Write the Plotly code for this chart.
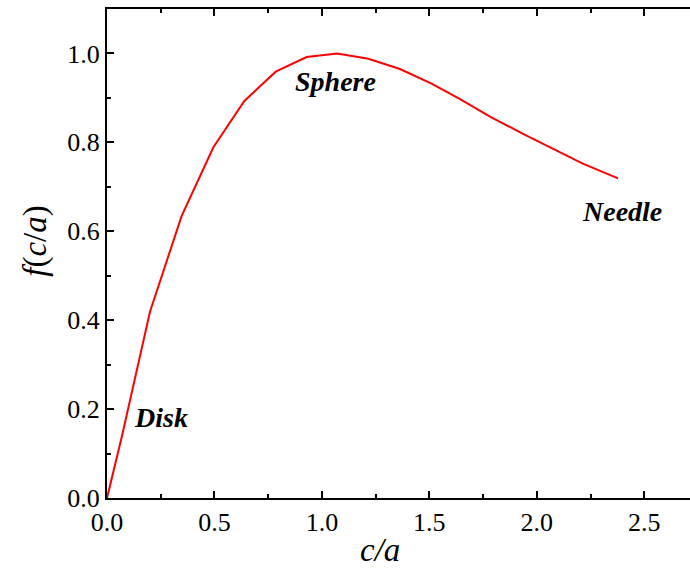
import plotly.graph_objects as go

# Data
ratio_ca = [0.0, 0.07, 0.20, 0.347, 0.495, 0.639, 0.785, 0.929, 1.071, 1.216,
            1.363, 1.51, 1.643, 1.786, 1.929, 2.071, 2.214, 2.378]
f_ca = [0.0, 0.14, 0.419, 0.634, 0.789, 0.893, 0.959, 0.992, 1.0, 0.988,
        0.965, 0.932, 0.897, 0.857, 0.821, 0.786, 0.752, 0.719]

labels = ["Disk", "Sphere", "Needle"]
label_x = [0.251, 1.065, 2.395]
label_y = [0.18, 0.938, 0.645]

SERIF = "Liberation Serif"

fig = go.Figure()
fig.add_trace(go.Scatter(x=ratio_ca, y=f_ca, mode="lines",
                         line=dict(color="#ff0000", width=2), showlegend=False))

for t, x, y in zip(labels, label_x, label_y):
    fig.add_annotation(x=x, y=y, text=f"<b><i>{t}</i></b>", showarrow=False,
                       xanchor="center", yanchor="middle",
                       font=dict(family=SERIF, size=28, color="black"))

# axis titles as annotations for exact placement
fig.add_annotation(xref="paper", yref="paper", x=0.462, y=-0.107, text="<i>c/a</i>",
                   xanchor="center", yanchor="middle",
                   showarrow=False, font=dict(family=SERIF, size=33, color="black"))
fig.add_annotation(xref="paper", yref="paper", x=-0.121, y=0.527,
                   text="<i>f</i>(<i>c</i>/<i>a</i>)", textangle=-90,
                   xanchor="center", yanchor="middle",
                   showarrow=False, font=dict(family=SERIF, size=33, color="black"))

axis_common = dict(showgrid=False, zeroline=False, showline=True, linecolor="black",
                   linewidth=2, mirror="ticks", ticks="inside", ticklen=7, tickwidth=1.5,
                   tickcolor="black", automargin=False,
                   tickfont=dict(family=SERIF, size=26, color="black"))

fig.update_xaxes(range=[0, 2.75], dtick=0.5, tickformat=".1f",
                 minor=dict(dtick=0.25, ticks="inside", ticklen=4, tickwidth=1.5, tickcolor="black"),
                 **axis_common)
fig.update_yaxes(range=[0, 1.1], dtick=0.2, tickformat=".1f",
                 minor=dict(dtick=0.1, ticks="inside", ticklen=4, tickwidth=1.5, tickcolor="black"),
                 **axis_common)

fig.update_layout(width=698, height=575, plot_bgcolor="white", paper_bgcolor="white",
                  margin=dict(l=107, r=0, t=9, b=76.5))

fig.write_html("out.html", config={"displayModeBar": False},
               post_script="document.body.style.margin='0px';document.body.style.overflow='hidden';")
